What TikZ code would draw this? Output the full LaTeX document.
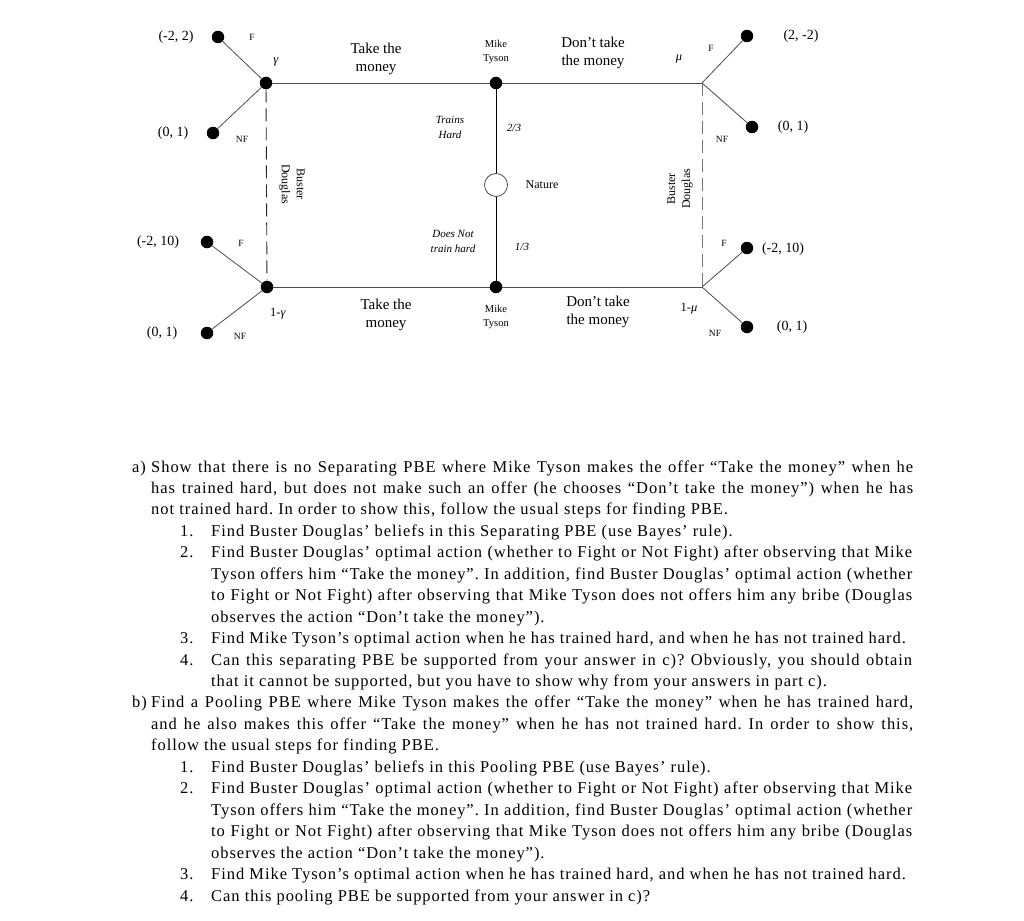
\documentclass[tikz,border=0pt]{standalone}
\usepackage{fontspec}
\setmainfont{Liberation Serif}
\newfontfamily\qfont[LetterSpace=5.8]{Liberation Serif}
\newcommand{\fullA}[1]{\makebox[762pt][s]{#1}}
\newcommand{\fullB}[1]{\makebox[701pt][s]{#1}}
\frenchspacing
\begin{document}
\begin{tikzpicture}[x=1pt,y=-1pt,
  dot/.style={circle,fill=black,inner sep=0pt,minimum size=12.5pt},
  opendot/.style={circle,draw=black!70,fill=white,inner sep=0pt,minimum size=23pt,line width=0.8pt},
  ln/.style={draw=black!70,line width=0.8pt},
  vln/.style={draw=black,line width=0.9pt},
  dashln/.style={line width=0.9pt,dash pattern=on 13pt off 6pt},
  pay/.style={font=\fontsize{14}{16}\selectfont},
  act/.style={font=\fontsize{9.5}{11}\selectfont},
  greek/.style={font=\fontsize{12.5}{14}\selectfont},
  mid/.style={font=\fontsize{15}{18}\selectfont,align=center,inner sep=0pt},
  who/.style={font=\fontsize{10.5}{13.5}\selectfont,align=center,inner sep=0pt},
  prob/.style={font=\fontsize{11}{15}\selectfont\itshape,align=center,inner sep=0pt},
  bd/.style={font=\fontsize{12}{15}\selectfont,align=center,inner sep=0pt},
  txt/.style={font=\qfont\fontsize{16.5}{21}\selectfont\frenchspacing,inner sep=0pt,anchor=base west}]
\useasboundingbox (0,0) rectangle (1024,920);

% decision nodes
\node[dot] (mt1) at (496,83) {};
\node[dot] (mt2) at (496,287) {};
\node[opendot] (nat) at (496,185) {};
\node[dot] (bl1) at (266,83) {};
\node[dot] (bl2) at (267,287) {};
\coordinate (br1) at (702,83);
\coordinate (br2) at (702,287);

% terminal nodes
\node[dot] (t1) at (218,37) {};
\node[dot] (t2) at (213,133) {};
\node[dot] (t3) at (207,242) {};
\node[dot] (t4) at (207,333) {};
\node[dot] (t5) at (747,36) {};
\node[dot] (t6) at (752,127) {};
\node[dot] (t7) at (747,248) {};
\node[dot] (t8) at (747,327) {};

% edges
\draw[vln] (mt1) -- (nat) -- (mt2);
\draw[ln] (bl1) -- (mt1) -- (br1);
\draw[ln] (bl2) -- (mt2) -- (br2);
\draw[ln] (bl1) -- (t1);
\draw[ln] (bl1) -- (t2);
\draw[ln] (bl2) -- (t3);
\draw[ln] (bl2) -- (t4);
\draw[ln] (br1) -- (t5);
\draw[ln] (br1) -- (t6);
\draw[ln] (br2) -- (t7);
\draw[ln] (br2) -- (t8);
\draw[dashln,draw=black!85] (bl1) -- (bl2);
\draw[dashln,draw=black!55] (br1) -- (br2);

% payoffs
\node[pay] (p1) at (176,37) {(-2, 2)};
\node[pay] (p2) at (173,133) {(0, 1)};
\node[pay] (p3) at (158,242) {(-2, 10)};
\node[pay] (p4) at (162,333) {(0, 1)};
\node[pay] (p5) at (801,36) {(2, -2)};
\node[pay] (p6) at (793,127) {(0, 1)};
\node[pay] (p7) at (783,249) {(-2, 10)};
\node[pay] (p8) at (792,327) {(0, 1)};

% actions
\node[act] (f1) at (252,37) {F};
\node[act] (nf1) at (242,139) {NF};
\node[act] (f2) at (241,243) {F};
\node[act] (nf2) at (240,336) {NF};
\node[act] (f3) at (711,48) {F};
\node[act] (nf3) at (722,139) {NF};
\node[act] (f4) at (724,243) {F};
\node[act] (nf4) at (715,333) {NF};

% beliefs
\node[greek] (g1) at (276,62) {\textit{γ}};
\node[greek] (g2) at (278,314) {1-\textit{γ}};
\node[greek] (m1) at (679,59) {\textit{μ}};
\node[greek] (m2) at (689,309) {1-\textit{μ}};

% messages and players
\node[mid] (tk1) at (376,59) {Take the\\money};
\node[mid] (tk2) at (386,315) {Take the\\money};
\node[mid] (dt1) at (593,53) {Don’t take\\the money};
\node[mid] (dt2) at (598,312) {Don’t take\\the money};
\node[who] (w1) at (496,52) {Mike\\Tyson};
\node[who] (w2) at (496,317) {Mike\\Tyson};
\node[prob] (th) at (450,127) {Trains\\Hard};
\node[prob] (pr1) at (514,128) {2/3};
\node[prob] (dn) at (453,241) {Does Not\\train hard};
\node[prob] (pr2) at (522,247) {1/3};
\node[bd] (natl) at (542,185) {Nature};
\node[bd,rotate=-90] (bdl) at (292,184) {Buster\\Douglas};
\node[bd,rotate=90] (bdr) at (680,189) {Buster\\Douglas};

% questions
\node[txt] (la) at (132,472) {a)};
\node[txt] (a1) at (151,472) {\fullA{Show that there is no Separating PBE where Mike Tyson makes the offer “Take the money” when he}};
\node[txt] (a2) at (151,493.45) {\fullA{has trained hard, but does not make such an offer (he chooses “Don’t take the money”) when he has}};
\node[txt] (a3) at (151,514.9) {not trained hard. In order to show this, follow the usual steps for finding PBE.};
\node[txt] (na1) at (180,536.35) {1.};
\node[txt] (a4) at (211,536.35) {Find Buster Douglas’ beliefs in this Separating PBE (use Bayes’ rule).};
\node[txt] (na2) at (180,557.8) {2.};
\node[txt] (a5) at (211,557.8) {\fullB{Find Buster Douglas’ optimal action (whether to Fight or Not Fight) after observing that Mike}};
\node[txt] (a6) at (211,579.25) {\fullB{Tyson offers him “Take the money”. In addition, find Buster Douglas’ optimal action (whether}};
\node[txt] (a7) at (211,600.7) {\fullB{to Fight or Not Fight) after observing that Mike Tyson does not offers him any bribe (Douglas}};
\node[txt] (a8) at (211,622.15) {observes the action “Don’t take the money”).};
\node[txt] (na3) at (180,643.6) {3.};
\node[txt] (a9) at (211,643.6) {Find Mike Tyson’s optimal action when he has trained hard, and when he has not trained hard.};
\node[txt] (na4) at (180,665.05) {4.};
\node[txt] (a10) at (211,665.05) {\fullB{Can this separating PBE be supported from your answer in c)? Obviously, you should obtain}};
\node[txt] (a11) at (211,686.5) {that it cannot be supported, but you have to show why from your answers in part c).};
\node[txt] (lb) at (132,707.95) {b)};
\node[txt] (b1) at (151,707.95) {\fullA{Find a Pooling PBE where Mike Tyson makes the offer “Take the money” when he has trained hard,}};
\node[txt] (b2) at (151,729.4) {\fullA{and he also makes this offer “Take the money” when he has not trained hard. In order to show this,}};
\node[txt] (b3) at (151,750.85) {follow the usual steps for finding PBE.};
\node[txt] (nb1) at (180,772.3) {1.};
\node[txt] (b4) at (211,772.3) {Find Buster Douglas’ beliefs in this Pooling PBE (use Bayes’ rule).};
\node[txt] (nb2) at (180,793.75) {2.};
\node[txt] (b5) at (211,793.75) {\fullB{Find Buster Douglas’ optimal action (whether to Fight or Not Fight) after observing that Mike}};
\node[txt] (b6) at (211,815.2) {\fullB{Tyson offers him “Take the money”. In addition, find Buster Douglas’ optimal action (whether}};
\node[txt] (b7) at (211,836.65) {\fullB{to Fight or Not Fight) after observing that Mike Tyson does not offers him any bribe (Douglas}};
\node[txt] (b8) at (211,858.1) {observes the action “Don’t take the money”).};
\node[txt] (nb3) at (180,879.55) {3.};
\node[txt] (b9) at (211,879.55) {Find Mike Tyson’s optimal action when he has trained hard, and when he has not trained hard.};
\node[txt] (nb4) at (180,901) {4.};
\node[txt] (b10) at (211,901) {Can this pooling PBE be supported from your answer in c)?};
\end{tikzpicture}
\end{document}
